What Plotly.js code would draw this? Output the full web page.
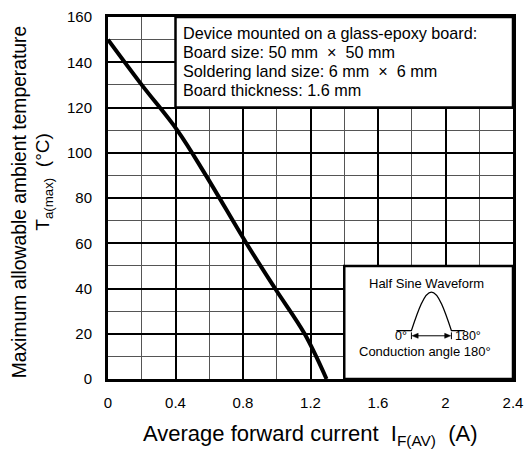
<!DOCTYPE html>
<html>
<head>
<meta charset="utf-8">
<script src="https://cdn.plot.ly/plotly-3.0.1.min.js"></script>
<style>html,body{margin:0;padding:0;background:#fff;}#chart{width:528px;height:453px;}</style>
</head>
<body>
<div id="chart"></div>
<script>
// Derating curve: average forward current (A) vs max ambient temperature (°C)
var currentA = [0, 0.2, 0.41, 0.58, 0.82, 0.99, 1.165, 1.295];
var tempC    = [150, 130, 110, 90, 60, 40, 20, 0];

var xTickVals = [0, 0.4, 0.8, 1.2, 1.6, 2, 2.4];
var xTickText = ['0', '0.4', '0.8', '1.2', '1.6', '2', '2.4'];
var yTickVals = [0, 20, 40, 60, 80, 100, 120, 140, 160];
var yTickText = ['0', '20', '40', '60', '80', '100', '120', '140', '160'];

var noteLines = [
  'Device mounted on a glass-epoxy board:',
  'Board size: 50 mm  \u00d7  50 mm',
  'Soldering land size: 6 mm  \u00d7  6 mm',
  'Board thickness: 1.6 mm'
];
var noteY = [152.8, 144.4, 136.0, 127.6];

var FONT = 'Arial, "Liberation Sans", sans-serif';

var trace = {
  x: currentA, y: tempC, type: 'scatter', mode: 'lines',
  line: {color: '#000', width: 4, shape: 'spline', smoothing: 1},
  hoverinfo: 'skip', showlegend: false
};

var annotations = [];
noteLines.forEach(function(t, i){
  annotations.push({x: 0.435, y: noteY[i], xref: 'x', yref: 'y', text: t, showarrow: false,
    xanchor: 'left', yanchor: 'middle', font: {family: FONT, size: 16.2, color: '#000'}});
});
annotations.push({x: 1.889, y: 42, xref: 'x', yref: 'y', text: 'Half Sine Waveform', showarrow: false,
  xanchor: 'center', yanchor: 'middle', font: {family: FONT, size: 13, color: '#000'}});
annotations.push({x: 1.877, y: 12.0, xref: 'x', yref: 'y', text: 'Conduction angle 180\u00b0', showarrow: false,
  xanchor: 'center', yanchor: 'middle', font: {family: FONT, size: 13, color: '#000'}});
annotations.push({x: 1.785, y: 19.0, xref: 'x', yref: 'y', text: '0\u00b0', showarrow: false,
  xanchor: 'right', yanchor: 'middle', font: {family: FONT, size: 12.5, color: '#000'}});
annotations.push({x: 2.046, y: 19.0, xref: 'x', yref: 'y', text: '180\u00b0', showarrow: false,
  xanchor: 'left', yanchor: 'middle', font: {family: FONT, size: 12.5, color: '#000'}});
// axis titles
annotations.push({x: 0.5, y: -0.154, xref: 'paper', yref: 'paper', showarrow: false,
  text: 'Average forward current  I<sub>F(AV)</sub>  (A)', xanchor: 'center', yanchor: 'middle',
  font: {family: FONT, size: 22, color: '#000'}});
annotations.push({x: -0.218, y: 0.49, xref: 'paper', yref: 'paper', showarrow: false, textangle: -90,
  text: 'Maximum allowable ambient temperature', xanchor: 'center', yanchor: 'middle',
  font: {family: FONT, size: 19.3, color: '#000'}});
annotations.push({x: -0.158, y: 0.545, xref: 'paper', yref: 'paper', showarrow: false, textangle: -90,
  text: 'T<sub>a(max)</sub>  (\u00b0C)', xanchor: 'center', yanchor: 'middle',
  font: {family: FONT, size: 19, color: '#000'}});

// half-sine glyph geometry (decorative icon, in axis units)
var bx0 = 1.709, bs = 1.798, be = 2.035, bx1 = 2.114, by = 21.4, pk = 38.4;
var w = be - bs, h = pk - by;
var sinePath = 'M ' + bx0 + ',' + by + ' L ' + bs + ',' + by +
  ' C ' + (bs + w*0.1628) + ',' + (by + h*0.5116) + ' ' + (bs + w*0.3247) + ',' + pk + ' ' + (bs + w*0.5) + ',' + pk +
  ' C ' + (be - w*0.3247) + ',' + pk + ' ' + (be - w*0.1628) + ',' + (by + h*0.5116) + ' ' + be + ',' + by +
  ' L ' + bx1 + ',' + by;
var ay = 19.1, ah = 0.036, aw = 1.1;
var arrowL = 'M ' + (bs + 0.004) + ',' + ay + ' L ' + (bs + 0.004 + ah) + ',' + (ay + aw) + ' L ' + (bs + 0.004 + ah) + ',' + (ay - aw) + ' Z';
var arrowR = 'M ' + (be - 0.004) + ',' + ay + ' L ' + (be - 0.004 - ah) + ',' + (ay + aw) + ' L ' + (be - 0.004 - ah) + ',' + (ay - aw) + ' Z';

var shapes = [
  {type: 'rect', xref: 'x', yref: 'y', x0: 0.4, x1: 2.4, y0: 120, y1: 160, layer: 'above',
   fillcolor: '#fff', line: {color: '#000', width: 2.5}},
  {type: 'rect', xref: 'x', yref: 'y', x0: 1.4, x1: 2.4, y0: 0, y1: 50, layer: 'above',
   fillcolor: '#fff', line: {color: '#000', width: 2.5}},
  {type: 'path', xref: 'x', yref: 'y', path: sinePath, layer: 'above', line: {color: '#000', width: 1.3}},
  {type: 'line', xref: 'x', yref: 'y', x0: bs, x1: bs, y0: 17.6, y1: 20.6, layer: 'above', line: {color: '#000', width: 1}},
  {type: 'line', xref: 'x', yref: 'y', x0: be, x1: be, y0: 17.6, y1: 20.6, layer: 'above', line: {color: '#000', width: 1}},
  {type: 'line', xref: 'x', yref: 'y', x0: bs + 0.02, x1: be - 0.02, y0: ay, y1: ay, layer: 'above', line: {color: '#000', width: 1}},
  {type: 'path', xref: 'x', yref: 'y', path: arrowL, layer: 'above', fillcolor: '#000', line: {color: '#000', width: 0.5}},
  {type: 'path', xref: 'x', yref: 'y', path: arrowR, layer: 'above', fillcolor: '#000', line: {color: '#000', width: 0.5}}
];

var layout = {
  width: 528, height: 453,
  margin: {l: 108, r: 15, t: 17, b: 74},
  paper_bgcolor: '#fff', plot_bgcolor: '#fff',
  font: {family: FONT, color: '#000'},
  showlegend: false,
  xaxis: {
    range: [0, 2.4], tickmode: 'array', tickvals: xTickVals, ticktext: xTickText,
    showgrid: true, gridcolor: '#000', gridwidth: 2, zeroline: false,
    showline: true, linecolor: '#000', linewidth: 3, mirror: true,
    ticks: '', ticklabelstandoff: 8, tickfont: {family: FONT, size: 15, color: '#000'},
    minor: {tickmode: 'linear', tick0: 0, dtick: 0.2, showgrid: true, gridcolor: '#555', gridwidth: 1},
    fixedrange: true
  },
  yaxis: {
    range: [0, 160], tickmode: 'array', tickvals: yTickVals, ticktext: yTickText,
    showgrid: true, gridcolor: '#000', gridwidth: 2, zeroline: false,
    showline: true, linecolor: '#000', linewidth: 3, mirror: true,
    ticks: '', ticklabelstandoff: 10, tickfont: {family: FONT, size: 15, color: '#000'},
    minor: {tickmode: 'linear', tick0: 0, dtick: 10, showgrid: true, gridcolor: '#555', gridwidth: 1},
    fixedrange: true
  },
  shapes: shapes,
  annotations: annotations
};

Plotly.newPlot('chart', [trace], layout, {staticPlot: true, displayModeBar: false});
</script>
</body>
</html>
